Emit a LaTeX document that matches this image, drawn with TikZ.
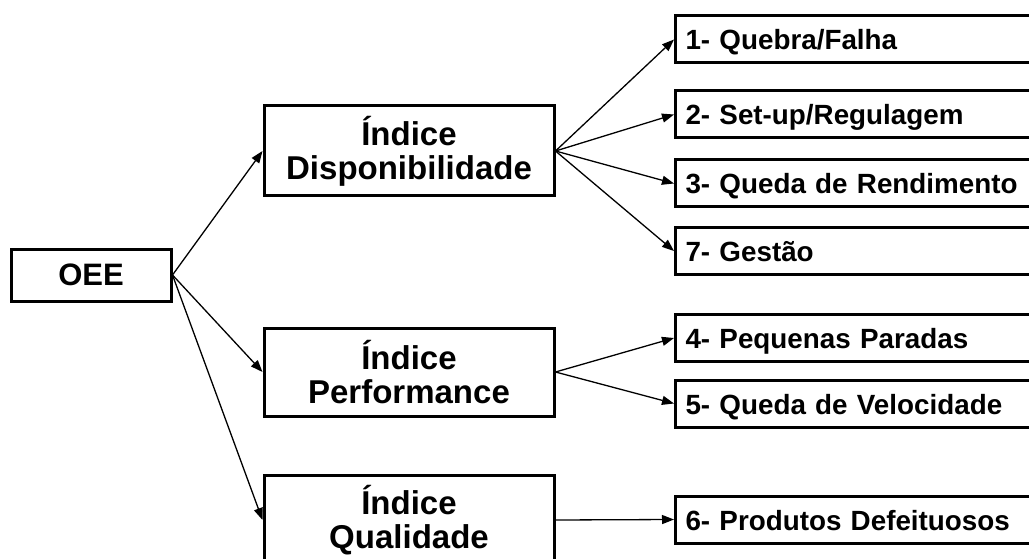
\documentclass[tikz,border=0pt]{standalone}
\usepackage{fontspec}
\setmainfont{Liberation Sans}
\usetikzlibrary{arrows.meta}
\begin{document}
\begin{tikzpicture}[x=1pt,y=-1pt,
  box/.style={draw=black, line width=3pt, fill=white, inner sep=0pt},
  rootbox/.style={box, minimum width=160pt, minimum height=52pt,
    font=\fontsize{31}{34}\selectfont\bfseries},
  midbox/.style={box, minimum width=290pt, minimum height=90pt, align=center,
    font=\fontsize{33}{34}\selectfont\bfseries},
  leafbox/.style={box, anchor=west, minimum width=380pt, minimum height=47pt,
    text width=360pt, align=left, text depth=0pt, text height=21pt,
    font=\fontsize{27.8}{30}\selectfont\bfseries},
  link/.style={line width=1.3pt, -{Triangle[length=12pt,width=9pt]}}]
\useasboundingbox (0,0) rectangle (1029,559);

% root
\node[rootbox] (oee) at (91,275) {OEE};

% indices
\node[midbox] (disp) at (409,151) {Índice\\Disponibilidade};
\node[midbox, minimum height=88pt] (perf) at (409,372) {Índice\\Performance};
\node[midbox] (qual) at (409,520) {Índice\\Qualidade};

% losses
\node[leafbox] (l1) at (674,39.5) {1- Quebra/Falha};
\node[leafbox] (l2) at (674,114.5) {2- Set-up/Regulagem};
\node[leafbox] (l3) at (674,183.5) {3- Queda de Rendimento};
\node[leafbox] (l7) at (674,251) {7- Gestão};
\node[leafbox] (l4) at (674,338) {4- Pequenas Paradas};
\node[leafbox] (l5) at (674,403.5) {5- Queda de Velocidade};
\node[leafbox] (l6) at (674,519.5) {6- Produtos Defeituosos};

% connectors
\draw[link] (oee.east) -- (disp.west);
\draw[link] (oee.east) -- (perf.west);
\draw[link] (oee.east) -- (qual.west);
\foreach \t in {l1,l2,l3,l7} \draw[link] (disp.east) -- (\t.west);
\foreach \t in {l4,l5} \draw[link] (perf.east) -- (\t.west);
\draw[link] (qual.east) -- (l6.west);
\end{tikzpicture}
\end{document}
